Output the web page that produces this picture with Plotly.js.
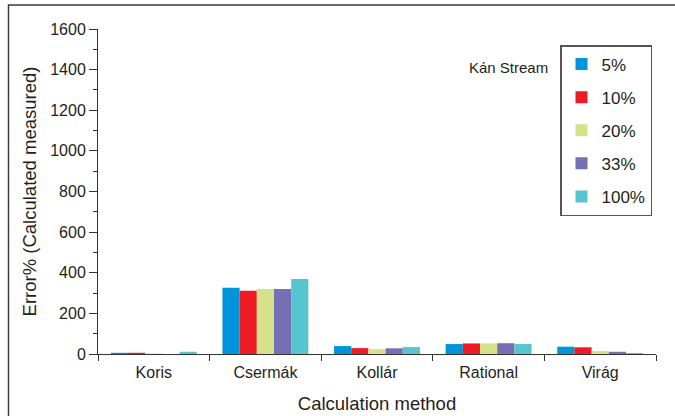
<!DOCTYPE html>
<html>
<head>
<meta charset="utf-8">
<script src="https://cdn.plot.ly/plotly-3.0.1.min.js"></script>
<style>html,body{margin:0;padding:0;background:#fff;}#chart{width:675px;height:416px;}</style>
</head>
<body>
<div id="chart"></div>
<script>
// Data
const categories = ['Koris', 'Csermák', 'Kollár', 'Rational', 'Virág'];
const seriesNames = ['5%', '10%', '20%', '33%', '100%'];
const s5   = [6, 326, 39, 49, 36];
const s10  = [6, 311, 29, 52, 33];
const s20  = [3, 320, 24, 52, 15];
const s33  = [0, 320, 28, 53, 11];
const s100 = [11, 369, 34, 49, 5];
const yTickVals = [0, 200, 400, 600, 800, 1000, 1200, 1400, 1600];
const annotationText = 'Kán Stream';
const xTitle = 'Calculation method';
const yTitle = 'Error% (Calculated measured)';

const seriesValues = [s5, s10, s20, s33, s100];
const colors = ['#0095da', '#ed1c24', '#d5e28a', '#7570b3', '#56c5d0'];
const FONT = '"Liberation Sans", Arial, Helvetica, sans-serif';
const INK = '#231f20';

const traces = seriesValues.map((vals, i) => ({
  type: 'bar',
  name: seriesNames[i],
  x: categories,
  y: vals,
  marker: {color: colors[i], line: {width: 0}},
  legendgroup: 'g' + i,
  hoverinfo: 'x+y+name'
}));

const layout = {
  width: 675,
  height: 416,
  margin: {l: 98, r: 19, t: 29, b: 62, pad: 0, autoexpand: false},
  paper_bgcolor: '#ffffff',
  plot_bgcolor: '#ffffff',
  font: {family: FONT, color: INK, size: 15},
  barmode: 'group',
  bargap: 0.23,
  bargroupgap: 0,
  showlegend: true,
  legend: {
    x: (560 - 98) / 558, y: (354 - 45) / 325,
    xref: 'paper', yref: 'paper',
    xanchor: 'left', yanchor: 'top',
    bgcolor: '#ffffff',
    bordercolor: '#555555',
    borderwidth: 1.5,
    font: {family: FONT, size: 17, color: INK},
    traceorder: 'grouped',
    tracegroupgap: 8,
    itemwidth: 30
  },
  xaxis: {
    type: 'category',
    showline: true, linecolor: '#333333', linewidth: 1,
    ticks: 'outside', tickson: 'boundaries', ticklen: 6, tickcolor: '#333333', tickwidth: 1,
    ticklabelstandoff: 4,
    tickfont: {family: FONT, size: 16, color: INK},
    showgrid: false, zeroline: false,
    title: {text: xTitle, font: {family: FONT, size: 18.5, color: INK}, standoff: 16}
  },
  yaxis: {
    range: [0, 1600],
    tickvals: yTickVals,
    showline: true, linecolor: '#333333', linewidth: 1,
    ticks: 'outside', ticklen: 8, tickcolor: '#333333', tickwidth: 1,
    minor: {dtick: 100, ticks: 'outside', ticklen: 4, tickcolor: '#333333', tickwidth: 1, showgrid: false},
    tickfont: {family: FONT, size: 16, color: INK},
    showgrid: false, zeroline: false,
    title: {text: yTitle, font: {family: FONT, size: 18.5, color: INK}, standoff: 8}
  },
  annotations: [{
    text: annotationText,
    xref: 'paper', yref: 'paper',
    x: (508 - 98) / 558, y: (354 - 67) / 325,
    xanchor: 'center', yanchor: 'middle',
    showarrow: false,
    font: {family: FONT, size: 15, color: INK}
  }],
  shapes: [{
    type: 'rect', xref: 'paper', yref: 'paper',
    x0: (8.5 - 98) / 558, x1: 1.2,
    y0: -0.4, y1: (354 - 5) / 325,
    line: {color: '#3a3a3a', width: 1.5},
    fillcolor: 'rgba(0,0,0,0)',
    layer: 'below'
  }]
};

Plotly.newPlot('chart', traces, layout, {displayModeBar: false, staticPlot: true});
</script>
</body>
</html>
